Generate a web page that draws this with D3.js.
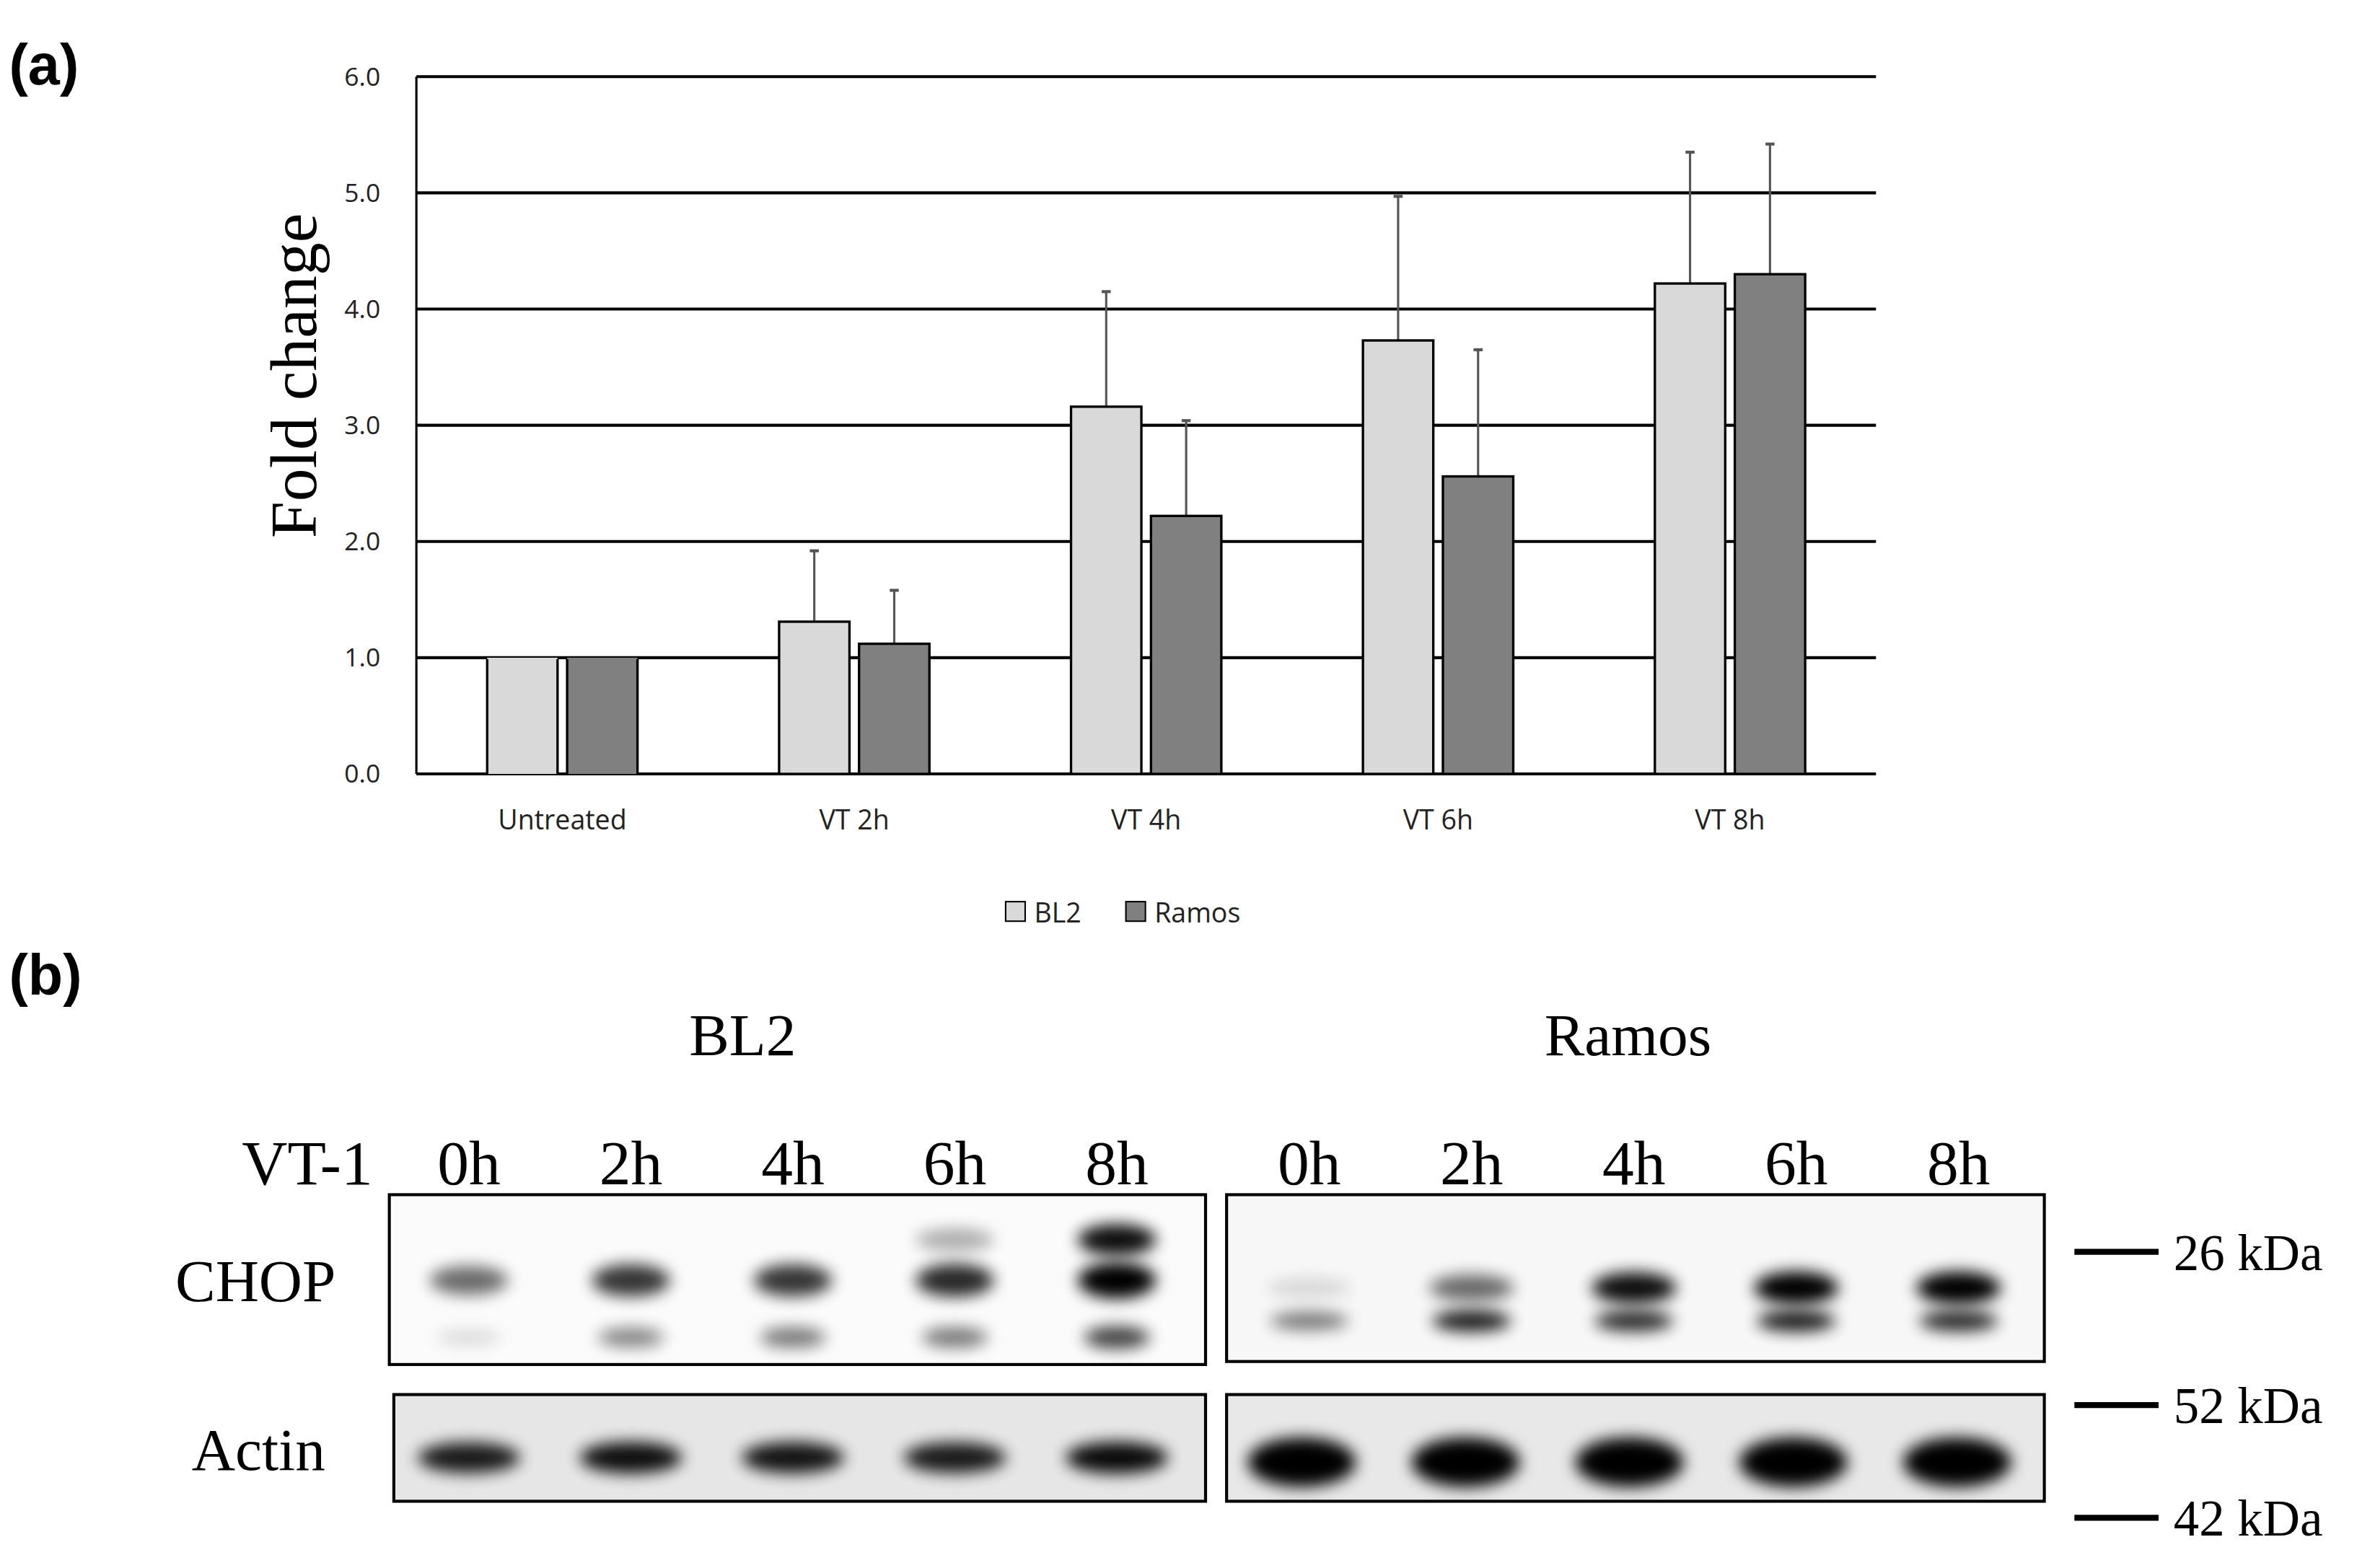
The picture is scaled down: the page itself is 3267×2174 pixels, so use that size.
<!DOCTYPE html>
<html><head><meta charset="utf-8">
<script src="https://cdn.jsdelivr.net/npm/d3@7"></script>
<style>body{margin:0;background:#fff}</style></head>
<body><svg id="c" width="3267" height="2174"></svg>
<script>
const categories=["Untreated","VT 2h","VT 4h","VT 6h","VT 8h"];
const seriesNames=["BL2","Ramos"];
const bl2=[1,1.31,3.16,3.73,4.22];
const ramos=[1,1.12,2.22,2.56,4.30];
const bl2Err=[0,0.61,0.99,1.24,1.13];
const ramosErr=[0,0.46,0.82,1.09,1.12];
const yTicks=[0,1,2,3,4,5,6];
const lanes=["0h","2h","4h","6h","8h"];
const bl2ChopUpper=[0.55,0.75,0.75,0.8,1.0];
const bl2ChopLower=[0.12,0.45,0.5,0.5,0.7];
const ramosChopUpper=[0.12,0.55,0.9,1.0,1.0];
const ramosChopLower=[0.5,0.85,0.8,0.85,0.8];
const bl2Actin=[0.85,0.9,0.88,0.85,0.92];
const ramosActin=[1,1,1,1,1];
const markers=["26 kDa","52 kDa","42 kDa"];

const k=3267/1568;
const svg=d3.select("#c");
const defs=svg.append("defs");
defs.append("filter").attr("id","blur").attr("x","-50%").attr("y","-100%").attr("width","200%").attr("height","300%")
  .append("feGaussianBlur").attr("stdDeviation",5);
const g=svg.append("g").attr("transform",`scale(${k})`);
const colors=["#d9d9d9","#808080"];

// Panel a
const y=d3.scaleLinear().domain([0,6]).range([515,51]);
const x0=d3.scaleBand().domain(categories).range([277,1248]);
const x1=d3.scaleBand().domain(seriesNames).range([0,100]).paddingInner(0.12);
g.append("g").selectAll("line").data(yTicks).join("line")
 .attr("x1",277).attr("x2",1248).attr("y1",d=>y(d)).attr("y2",d=>y(d))
 .attr("stroke","#000").attr("stroke-width",2);
g.append("line").attr("x1",277).attr("x2",277).attr("y1",51).attr("y2",515).attr("stroke","#000").attr("stroke-width",1.5);
const yAxis=g.append("g").attr("transform","translate(256,0)").call(d3.axisLeft(y).tickValues(yTicks).tickSize(0));
yAxis.select(".domain").remove();
yAxis.selectAll("text").attr("font-family","Open Sans").attr("font-size",17).attr("fill","#222");
const xAxis=g.append("g").attr("transform","translate(0,536)").call(d3.axisBottom(x0).tickSize(0));
xAxis.select(".domain").remove();
xAxis.selectAll("text").attr("font-family","Open Sans").attr("font-size",18).attr("fill","#222");
const data=[bl2,ramos], errs=[bl2Err,ramosErr];
categories.forEach((c,i)=>{
  const cx=x0(c)+x0.bandwidth()/2-50;
  seriesNames.forEach((s,j)=>{
    const v=data[j][i], e=errs[j][i];
    const bx=cx+x1(s), bw=x1.bandwidth();
    if(e>0){
      g.append("line").attr("x1",bx+bw/2).attr("x2",bx+bw/2).attr("y1",y(v)).attr("y2",y(v+e)).attr("stroke","#555").attr("stroke-width",1.5);
      g.append("line").attr("x1",bx+bw/2-3).attr("x2",bx+bw/2+3).attr("y1",y(v+e)).attr("y2",y(v+e)).attr("stroke","#555").attr("stroke-width",2);
    }
    g.append("rect").attr("x",bx).attr("y",y(v)).attr("width",bw).attr("height",y(0)-y(v))
     .attr("fill",colors[j]).attr("stroke",i===0?"none":"#000").attr("stroke-width",1.6);
    if(i===0){g.append("path").attr("d",`M${bx},${y(0)}V${y(v)+1}M${bx+bw},${y(v)+1}V${y(0)}`).attr("stroke","#000").attr("stroke-width",1.6);}
  });
});
g.append("text").attr("transform","translate(210,250) rotate(-90)").attr("text-anchor","middle")
 .attr("font-family","Liberation Serif").attr("font-size",44).text("Fold change");
[[669,"BL2"],[749,"Ramos"]].forEach((d,j)=>{
  g.append("rect").attr("x",d[0]).attr("y",600).attr("width",13).attr("height",13).attr("fill",colors[j]).attr("stroke","#000");
  g.append("text").attr("x",d[0]+19).attr("y",614).attr("font-family","Open Sans").attr("font-size",18).attr("fill","#222").text(d[1]);
});
g.append("text").attr("x",6).attr("y",56).attr("font-family","Liberation Sans").attr("font-weight","bold").attr("font-size",38).text("(a)");
g.append("text").attr("x",6).attr("y",662).attr("font-family","Liberation Sans").attr("font-weight","bold").attr("font-size",38).text("(b)");

// Panel b
const serif="Liberation Serif";
g.append("text").attr("x",494).attr("y",702).attr("text-anchor","middle").attr("font-family",serif).attr("font-size",40).text("BL2");
g.append("text").attr("x",1083).attr("y",702).attr("text-anchor","middle").attr("font-family",serif).attr("font-size",40).text("Ramos");
g.append("text").attr("x",248).attr("y",788).attr("text-anchor","end").attr("font-family",serif).attr("font-size",42).text("VT-1");
const laneL=d3.scalePoint().domain(lanes).range([312,743]);
const laneR=d3.scalePoint().domain(lanes).range([871,1303]);
lanes.forEach(l=>{
  g.append("text").attr("x",laneL(l)).attr("y",788).attr("text-anchor","middle").attr("font-family",serif).attr("font-size",42).text(l);
  g.append("text").attr("x",laneR(l)).attr("y",788).attr("text-anchor","middle").attr("font-family",serif).attr("font-size",42).text(l);
});
g.append("text").attr("x",170).attr("y",866).attr("text-anchor","middle").attr("font-family",serif).attr("font-size",40).text("CHOP");
g.append("text").attr("x",172).attr("y",978).attr("text-anchor","middle").attr("font-family",serif).attr("font-size",40).text("Actin");

function blot(x,y0,w,h,bg,bands){
  const bg2=g.append("g");
  bg2.append("rect").attr("x",x).attr("y",y0).attr("width",w).attr("height",h).attr("fill",bg);
  const clip="clip"+Math.round(x)+Math.round(y0);
  defs.append("clipPath").attr("id",clip).append("rect").attr("x",x).attr("y",y0).attr("width",w).attr("height",h);
  const inner=bg2.append("g").attr("clip-path",`url(#${clip})`);
  bands.forEach(b=>{
    b.vals.forEach((v,i)=>{
      inner.append("ellipse").attr("cx",b.sc(lanes[i])).attr("cy",b.cy).attr("rx",b.rx).attr("ry",b.ry*(0.6+0.5*v))
        .attr("fill","#000").attr("opacity",Math.min(1,v*1.05)).attr("filter","url(#blur)");
    });
  });
  bg2.append("rect").attr("x",x).attr("y",y0).attr("width",w).attr("height",h).attr("fill","none").attr("stroke","#000").attr("stroke-width",2);
}
blot(259,795,543,113,"#fbfbfb",[{sc:laneL,cy:852,rx:26,ry:11,vals:bl2ChopUpper},{sc:laneL,cy:890,rx:22,ry:8,vals:bl2ChopLower},
  {sc:laneL,cy:825,rx:26,ry:10,vals:[0,0,0,0.3,0.9]}]);
blot(816,795,544,111,"#f7f7f7",[{sc:laneR,cy:857,rx:28,ry:10,vals:ramosChopUpper},{sc:laneR,cy:879,rx:26,ry:7,vals:ramosChopLower}]);
blot(262,928,540,71,"#e6e6e6",[{sc:laneL,cy:970,rx:34,ry:10,vals:bl2Actin}]);
blot(816,928,544,71,"#e8e8e8",[{sc:d3.scalePoint().domain(lanes).range([866,1302]),cy:973,rx:36,ry:15,vals:ramosActin}]);

const mY=[833,935,1010];
markers.forEach((m,i)=>{
  g.append("line").attr("x1",1380).attr("x2",1436).attr("y1",mY[i]).attr("y2",mY[i]).attr("stroke","#000").attr("stroke-width",4);
  g.append("text").attr("x",1446).attr("y",mY[i]+12).attr("font-family",serif).attr("font-size",34).text(m);
});
</script></body></html>
